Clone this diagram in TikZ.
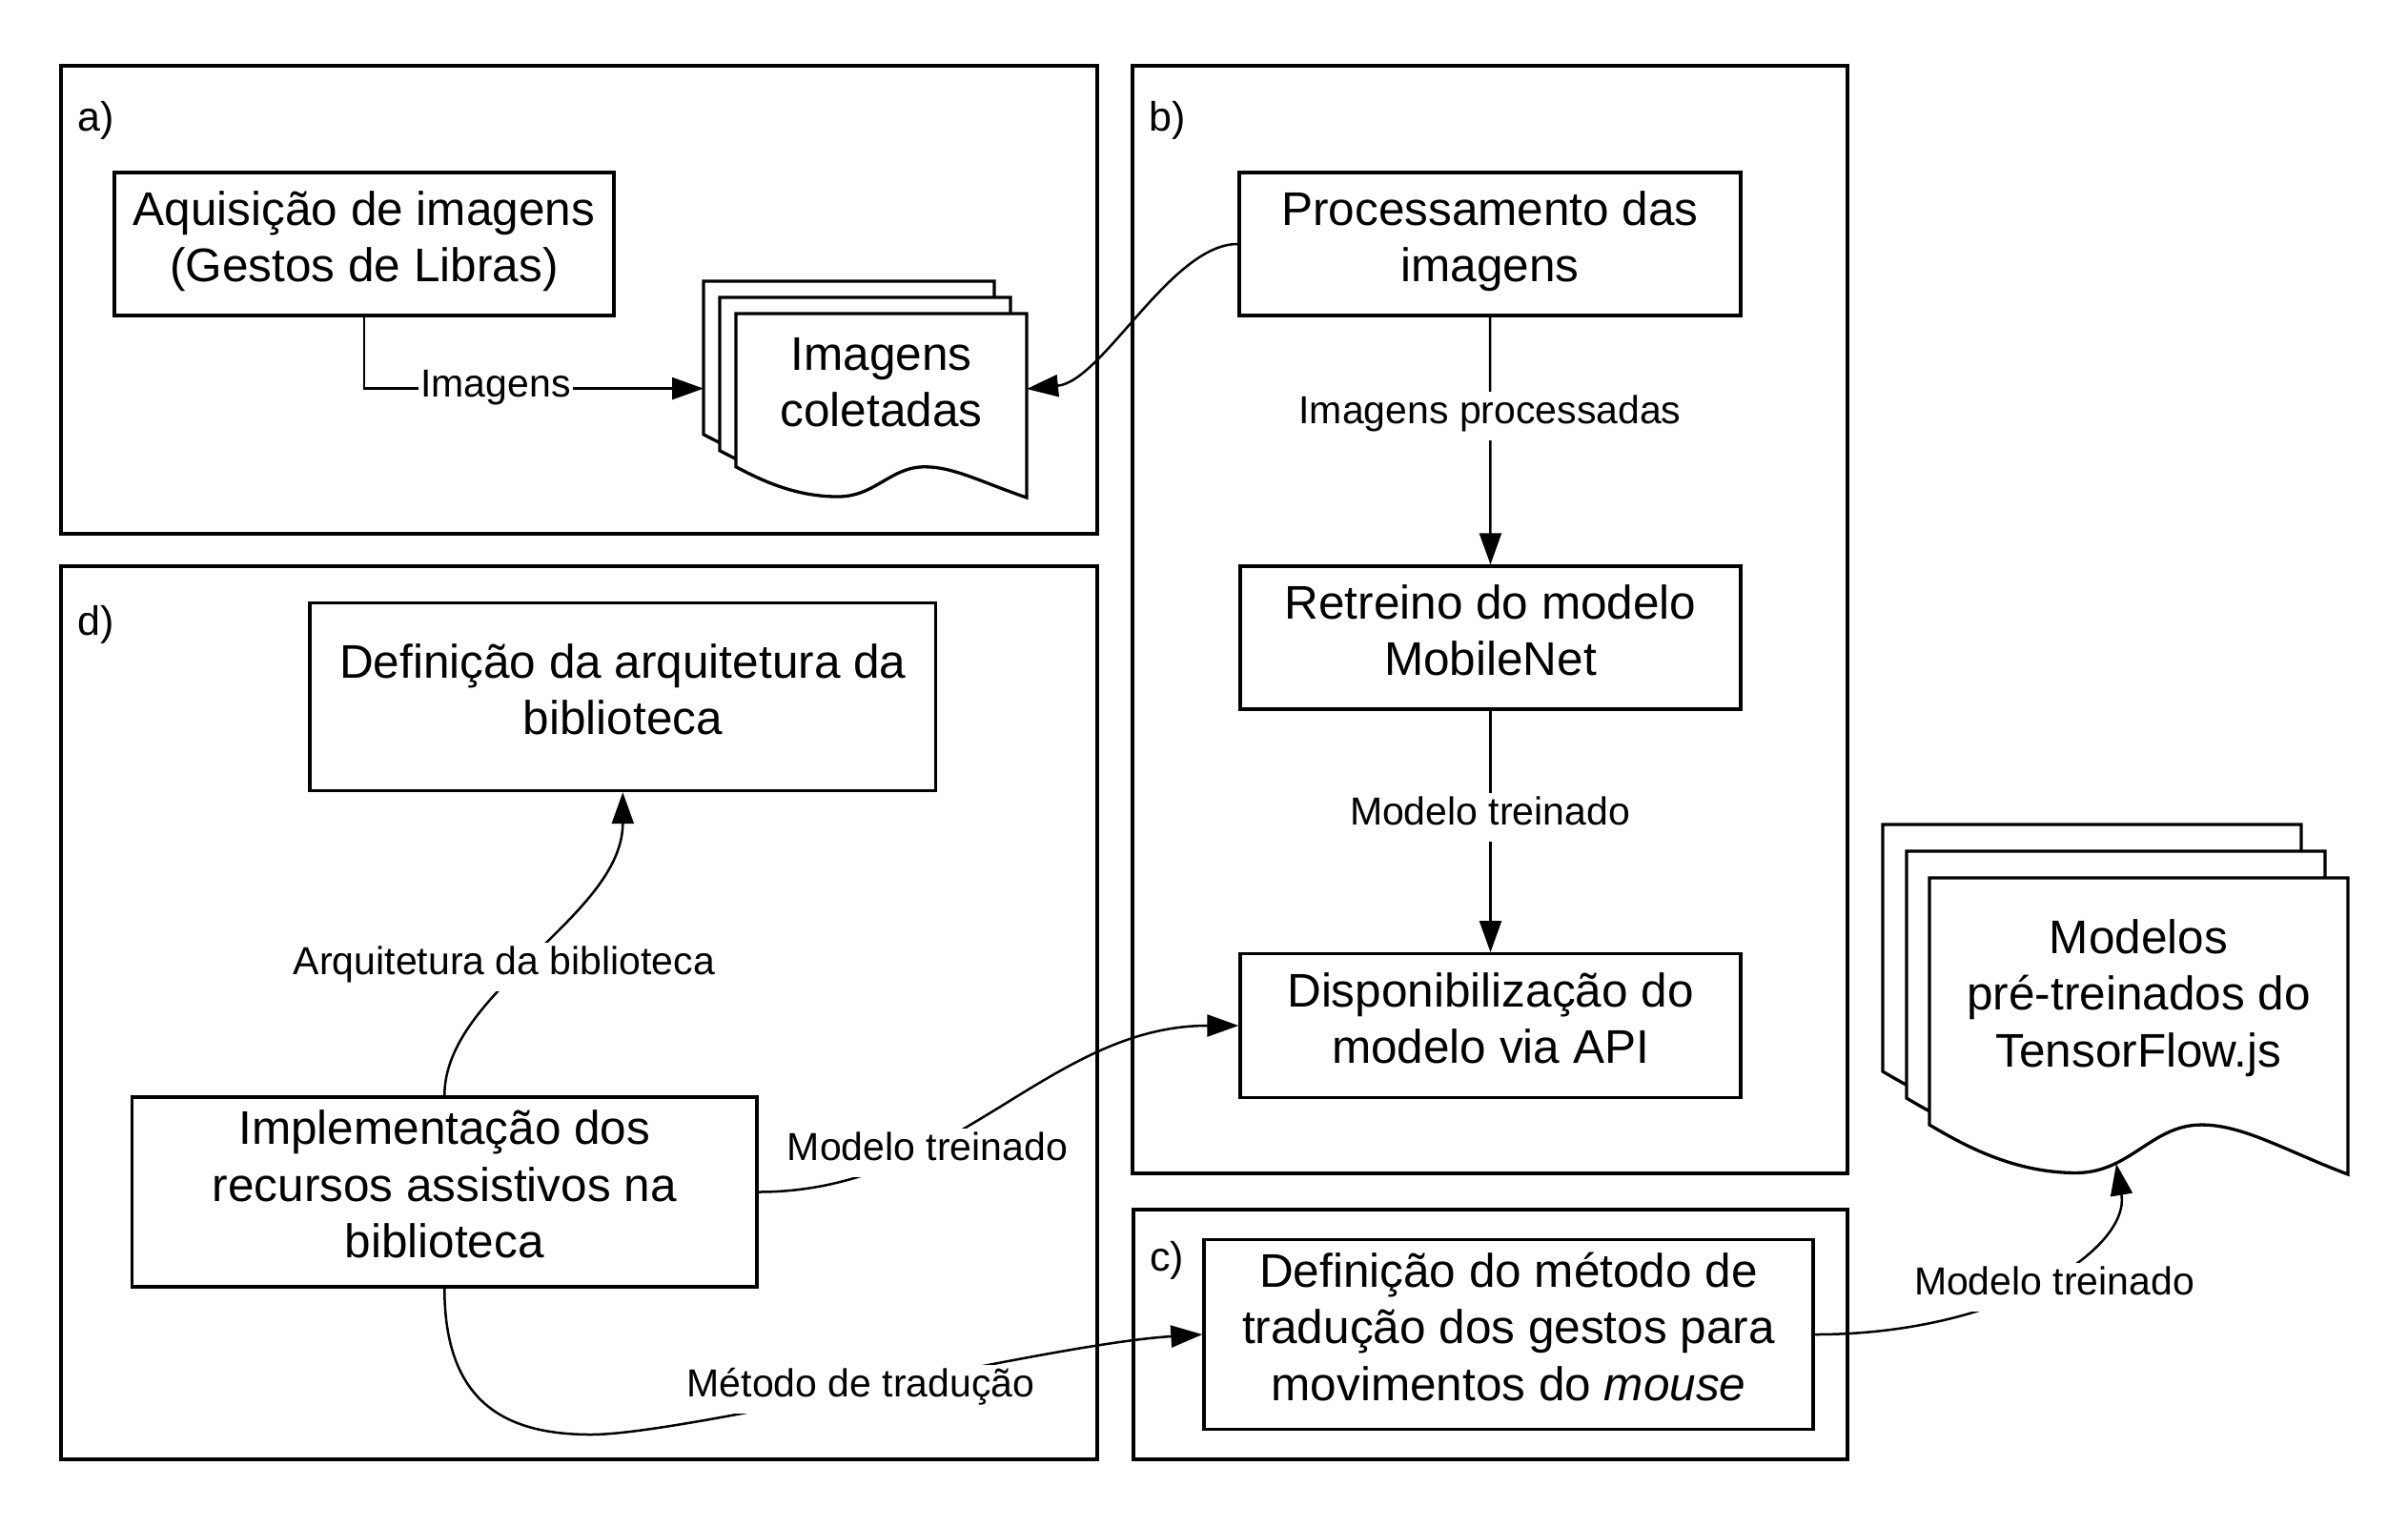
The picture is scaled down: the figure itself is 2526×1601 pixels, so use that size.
\documentclass[tikz,border=0pt]{standalone}
\usepackage{fontspec}
\setmainfont{Liberation Sans}
\usetikzlibrary{arrows.meta}
\newcommand\ms{\rule[-20pt]{0pt}{59.4pt}}
\newcommand\mybigfont{\fontsize{49.5}{59.4}\selectfont\lineskiplimit=-1000pt}
\newcommand\mylblfont{\fontsize{41}{49.2}\selectfont}
% #1 x, #2 y (top-left), #3 width, #4 height
\newcommand\mydocpage[4]{%
  \filldraw[docline] (#1,#2) -- ({#1+#3},#2) -- ({#1+#3},{#2+#4})
   .. controls ({#1+0.85*#3},{#2+0.92*#4}) and ({#1+0.75*#3},{#2+0.833*#4}) .. ({#1+0.65*#3},{#2+0.833*#4})
   .. controls ({#1+0.53*#3},{#2+0.833*#4}) and ({#1+0.48*#3},{#2+0.995*#4}) .. ({#1+0.35*#3},{#2+0.995*#4})
   .. controls ({#1+0.2*#3},{#2+0.995*#4}) and ({#1+0.08*#3},{#2+0.9*#4}) .. (#1,{#2+0.833*#4}) -- cycle;}
\begin{document}
\begin{tikzpicture}[x=1pt,y=-1pt,
  frame/.style={draw=black,line width=3.4pt},
  docline/.style={draw=black,fill=white,line width=3.3pt,line join=miter},
  box/.style={draw=black,line width=3.4pt,fill=white,align=center,inner sep=0pt,font=\mybigfont},
  doctext/.style={align=center,inner sep=0pt,font=\mybigfont},
  lbl/.style={fill=white,font=\mylblfont,inner xsep=2pt,inner ysep=0pt,text height=34pt,text depth=17pt},
  tag/.style={font=\fontsize{43}{51}\selectfont,inner sep=0pt,anchor=west},
  arr/.style={draw=black,line width=2.5pt,-{Triangle[length=33pt,width=23pt]}}]
\fill[white] (0,0) rectangle (2526,1601);
\useasboundingbox (0,0) rectangle (2526,1601);

% frames
\draw[frame] (64,69) rectangle (1151,560);
\draw[frame] (1188,69) rectangle (1938,1231);
\draw[frame] (1189,1269) rectangle (1938,1531);
\draw[frame] (64,594) rectangle (1151,1531);
\node[tag] (ta) at (81,126) {a)};
\node[tag] (tb) at (1205,126) {b)};
\node[tag] (td) at (81,655) {d)};
\node[tag] (tc) at (1206,1322) {c)};

% document stacks
\mydocpage{738}{295}{305}{193}
\mydocpage{755}{312}{305}{193}
\mydocpage{772}{329}{305}{193}
\node[doctext] (imgc) at (924.5,408.4) {\ms Imagens\\\ms coletadas};
\coordinate (imgcL) at (738,407.6);
\coordinate (imgcR) at (1077,408);

\mydocpage{1975}{865}{439}{311}
\mydocpage{2000}{893}{439}{311}
\mydocpage{2024}{921}{439}{311}
\node[doctext] (tfm) at (2243.5,1050) {\ms Modelos\\\ms pré-treinados do\\\ms TensorFlow.js};
\coordinate (tfB) at (2220,1221);

% boxes
\node[box,minimum width=524pt,minimum height=150pt] (aq) at (382,256) {\ms Aquisição de imagens\\\ms (Gestos de Libras)};
\node[box,minimum width=526pt,minimum height=150pt] (proc) at (1563,256) {\ms Processamento das\\\ms imagens};
\node[box,minimum width=525pt,minimum height=150pt] (ret) at (1563.5,669) {\ms Retreino do modelo\\\ms MobileNet};
\node[box,minimum width=525pt,minimum height=150.5pt] (disp) at (1563.5,1076) {\ms Disponibilização do\\\ms modelo via API};
\node[box,minimum width=639pt,minimum height=199pt] (met) at (1582.5,1400) {\ms Definição do método de\\\ms tradução dos gestos para\\\ms movimentos do \textit{mouse}};
\node[box,minimum width=656.6pt,minimum height=197pt] (defarq) at (653.3,731) {\ms Definição da arquitetura da\\\ms biblioteca};
\node[box,minimum width=655.5pt,minimum height=198.7pt] (impl) at (466.25,1250.5) {\ms Implementação dos\\\ms recursos assistivos na\\\ms biblioteca};
\coordinate (viaM) at (620,1505);

% connectors
\draw[arr] (aq.south) |- (imgcL);
\node[lbl] (l1) at (520,407.6) {Imagens};

\draw[arr] (proc.west) .. controls +(-70,0) and +(80,-8) .. (imgcR);

\draw[arr] (proc.south) -- (ret.north);
\node[lbl] (l2) at (1563,436) {Imagens processadas};

\draw[arr] (ret.south) -- (disp.north);
\node[lbl] (l3) at (1563,857) {Modelo treinado};

\draw[arr] (impl.north) .. controls +(0,-110) and +(0,130) .. (defarq.south);
\node[lbl] (l4) at (529,1014) {Arquitetura da biblioteca};

\draw[arr] (impl.east) .. controls +(206,0) and +(-200,0) .. (disp.west);
\node[lbl] (l5) at (973,1209) {Modelo treinado};

\draw[arr] (impl.south) .. controls +(0,120) and +(-90,0) .. (viaM) .. controls +(100,0) and +(-163,10) .. (met.west);
\node[lbl] (l6) at (903,1457) {Método de tradução};

\draw[arr] (met.east) .. controls +(198,0) and +(15,89) .. (tfB);
\node[lbl] (l7) at (2155,1350) {Modelo treinado};
\end{tikzpicture}
\end{document}
